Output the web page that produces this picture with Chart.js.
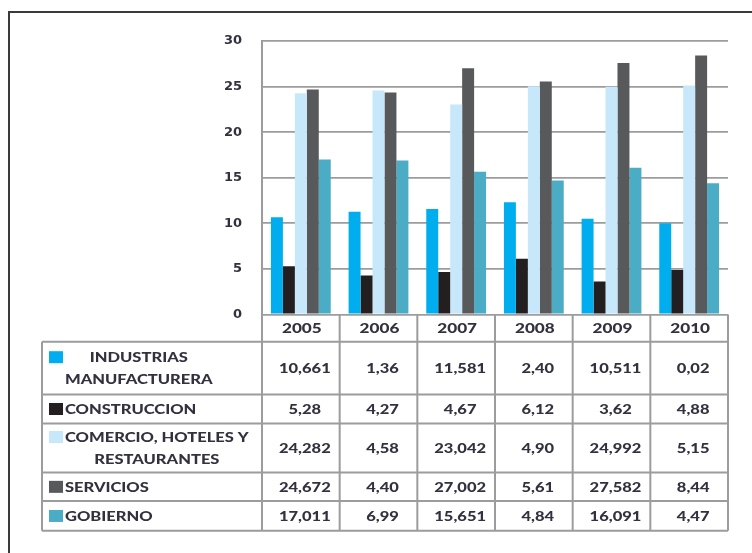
<!DOCTYPE html>
<html>
<head>
<meta charset="utf-8">
<script src="https://cdn.jsdelivr.net/npm/chart.js@4.4.1/dist/chart.umd.min.js"></script>
<style>
  html, body { margin: 0; padding: 0; background: #fff; overflow: hidden; }
  #wrap { position: relative; width: 752px; height: 553px; overflow: hidden; }
  #frame { position: absolute; left: 8px; top: 11px; width: 800px; height: 600px; border: 2px solid #3a3a3a; }
  #sectorChart { position: absolute; left: 0; top: 0; }
</style>
</head>
<body>
<div id="wrap">
  <div id="frame"></div>
  <canvas id="sectorChart" width="752" height="553"></canvas>
</div>
<script>
const years = ["2005", "2006", "2007", "2008", "2009", "2010"];
const yTicks = [0, 5, 10, 15, 20, 25, 30];

// bar heights per sector
const industrias = [10.661, 11.26, 11.581, 12.32, 10.511, 10.01];
const construccion = [5.28, 4.27, 4.67, 6.12, 3.62, 4.88];
const comercio = [24.282, 24.57, 23.042, 25.05, 24.992, 25.12];
const servicios = [24.672, 24.35, 27.002, 25.56, 27.582, 28.42];
const gobierno = [17.011, 16.9, 15.651, 14.7, 16.091, 14.41];

// numbers printed in the data table under the chart
const industriasTabla = ["10,661", "1,36", "11,581", "2,40", "10,511", "0,02"];
const construccionTabla = ["5,28", "4,27", "4,67", "6,12", "3,62", "4,88"];
const comercioTabla = ["24,282", "4,58", "23,042", "4,90", "24,992", "5,15"];
const serviciosTabla = ["24,672", "4,40", "27,002", "5,61", "27,582", "8,44"];
const gobiernoTabla = ["17,011", "6,99", "15,651", "4,84", "16,091", "4,47"];

// legend text, one entry per line
const sectorLabels = [
  ["INDUSTRIAS", "MANUFACTURERA"],
  ["CONSTRUCCION"],
  ["COMERCIO, HOTELES Y", "RESTAURANTES"],
  ["SERVICIOS"],
  ["GOBIERNO"]
];

const colors = ["#00aeef", "#231f20", "#c7e8fa", "#58595b", "#4bacc6"];
const seriesData = [industrias, construccion, comercio, servicios, gobierno];
const tableText = [industriasTabla, construccionTabla, comercioTabla, serviciosTabla, gobiernoTabla];

const TICK_FONT = "'DejaVu Sans', sans-serif";
const TABLE_FONT = "Lato, sans-serif";
const STRETCH = 1.32;
const TEXT_COLOR = "#34313f";
const LINE_COLOR = "#9c9c9c";

// heights of the table rows below the header
const rowHeights = [52.8, 28.8, 49.2, 28.5, 29.7];

// wide text: draw with a horizontal stretch, x is the left edge
function wideText(ctx, text, left, y) {
  ctx.save();
  ctx.translate(left, y);
  ctx.scale(STRETCH, 1);
  ctx.textAlign = "left";
  ctx.fillText(text, 0, 0);
  ctx.restore();
}
function wideWidth(ctx, text) {
  return ctx.measureText(text).width * STRETCH;
}

const dataTable = {
  id: "dataTable",
  afterDraw(chart) {
    const { ctx, chartArea: a, scales: { x } } = chart;
    const colW = (a.right - a.left) / years.length;
    const tableLeft = 42;
    const headTop = a.bottom;
    const headBottom = headTop + 27.3;

    const rowTops = [headBottom];
    rowHeights.forEach(h => rowTops.push(rowTops[rowTops.length - 1] + h));
    const tableBottom = rowTops[rowTops.length - 1];

    ctx.save();
    ctx.strokeStyle = LINE_COLOR;
    ctx.lineWidth = 2;
    ctx.beginPath();
    rowTops.forEach(y => {
      ctx.moveTo(tableLeft, y);
      ctx.lineTo(a.right, y);
    });
    for (let i = 0; i <= years.length; i++) {
      const xx = a.left + i * colW;
      ctx.moveTo(xx, headTop);
      ctx.lineTo(xx, tableBottom);
    }
    ctx.moveTo(tableLeft, headBottom);
    ctx.lineTo(tableLeft, tableBottom);
    ctx.stroke();

    ctx.fillStyle = TEXT_COLOR;
    ctx.textBaseline = "middle";

    // year header
    ctx.font = "900 13px " + TABLE_FONT;
    years.forEach((yr, i) => {
      const w = wideWidth(ctx, yr);
      wideText(ctx, yr, x.getPixelForValue(i) - w / 2 + 1, (headTop + headBottom) / 2 + 1);
    });

    seriesData.forEach((_, r) => {
      const top = rowTops[r];
      const bottom = rowTops[r + 1];
      const mid = (top + bottom) / 2;
      const lines = sectorLabels[r];
      const lineH = 22;
      const firstY = mid - (lines.length - 1) * lineH / 2;

      // legend key
      ctx.fillStyle = colors[r];
      ctx.fillRect(49, firstY - 6, 14, 12);

      // sector name, lines centred within the widest line
      ctx.fillStyle = TEXT_COLOR;
      ctx.font = "900 12.5px " + TABLE_FONT;
      const widths = lines.map(l => wideWidth(ctx, l));
      const blockW = Math.max(...widths);
      lines.forEach((l, k) => {
        wideText(ctx, l, 65 + (blockW - widths[k]) / 2, firstY + k * lineH + 1);
      });

      // values
      ctx.font = "900 12.5px " + TABLE_FONT;
      tableText[r].forEach((v, i) => {
        const w = wideWidth(ctx, v);
        wideText(ctx, v, x.getPixelForValue(i) + 4 - w / 2, mid + 1);
      });
    });
    ctx.restore();
  }
};

new Chart(document.getElementById("sectorChart"), {
  type: "bar",
  data: {
    labels: years,
    datasets: seriesData.map((d, i) => ({
      label: sectorLabels[i].join(" "),
      data: d,
      backgroundColor: colors[i],
      borderWidth: 0
    }))
  },
  options: {
    responsive: false,
    animation: false,
    devicePixelRatio: 1,
    layout: { padding: { top: 41, right: 24, bottom: 238.5, left: 0 } },
    datasets: {
      bar: { categoryPercentage: 0.77, barPercentage: 1.0 }
    },
    plugins: {
      legend: { display: false },
      tooltip: { enabled: false }
    },
    scales: {
      x: { display: false },
      y: {
        min: 0,
        max: 30,
        afterFit(scale) { scale.width = 262; },
        afterBuildTicks(scale) { scale.ticks = yTicks.map(v => ({ value: v })); },
        ticks: {
          padding: 20,
          color: TEXT_COLOR,
          font: { family: TICK_FONT, size: 13, weight: "bold" }
        },
        grid: { color: LINE_COLOR, lineWidth: 1.8, drawTicks: false },
        border: { display: true, color: LINE_COLOR, width: 2 }
      }
    }
  },
  plugins: [dataTable]
});
</script>
</body>
</html>
